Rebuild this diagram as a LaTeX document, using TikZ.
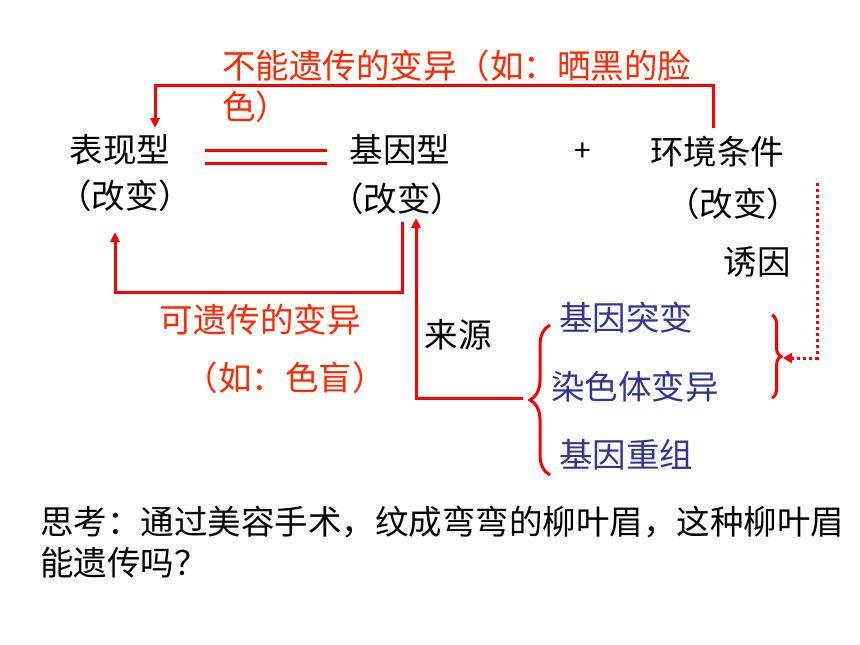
\documentclass[tikz,border=0pt]{standalone}
\usepackage{fontspec}
\setmainfont{Noto Sans CJK SC}
\usetikzlibrary{positioning,arrows.meta,decorations.pathreplacing}
\definecolor{txtred}{RGB}{255,40,0}
\definecolor{txtblue}{RGB}{51,51,153}

\begin{document}
\begin{tikzpicture}[x=1pt, y=-1pt,
    every node/.style={inner sep=0pt, font=\fontsize{33.5}{38}\selectfont},
    blk/.style={text=black},
    rtxt/.style={text=txtred},
    btxt/.style={text=txtblue},
    redline/.style={red, line width=3pt},
    redarrow/.style={redline, -{Triangle[width=9pt,length=10pt]}}]

    \useasboundingbox[fill=white] (0,0) rectangle (860,645);

    % Upper row
    \node[blk] (pheno) at (120,150) {表现型};
    \node[blk] (phenoc) at (125,196) {（改变）};
    \node[blk] (geno) at (400,150) {基因型};
    \node[blk] (genoc) at (397,199) {（改变）};
    \node[blk, font=\fontsize{30}{34}\selectfont] (plus) at (583,152) {+};
    \node[blk] (env) at (717,152) {环境条件};
    \node[blk] (envc) at (733,204) {（改变）};
    \node[blk] (cause) at (757,262) {诱因};

    % Red labels
    \node[rtxt, align=left, anchor=north west, font=\fontsize{33.5}{41}\selectfont] (nonher) at (222,50) {不能遗传的变异（如：晒黑的脸\\色）};
    \node[rtxt] (her) at (260,320) {可遗传的变异};
    \node[rtxt] (herex) at (285,378) {（如：色盲）};

    % Sources
    \node[blk] (src) at (458,335) {来源};
    \node[btxt] (mut) at (626,318) {基因突变};
    \node[btxt] (chrom) at (635,387) {染色体变异};
    \node[btxt] (recomb) at (626,455) {基因重组};

    % Question
    \node[blk, align=left, anchor=north west, font=\fontsize{33.5}{41}\selectfont] (think) at (40,506) {思考：通过美容手术，纹成弯弯的柳叶眉，这种柳叶眉\\能遗传吗？};

    % Points for the connectors
    \coordinate (envtop) at (713,128);
    \coordinate (phenotop) at (155,128);
    \coordinate (genobot) at (402,222);
    \coordinate (phenobot) at (115,232);
    \coordinate (genobotb) at (416,218);
    \coordinate (bracel) at (523,398);
    \coordinate (envdot) at (817,183);
    \coordinate (bracer) at (783,358);

    % Equal sign
    \draw[redline] (205,150) -- (327,150);
    \draw[redline] (205,163) -- (327,163);

    % Edges
    \draw[redarrow] (envtop) |- (155,85) -- (phenotop);
    \draw[redarrow] (genobot) |- (115,292) -- (phenobot);
    \draw[redarrow] (bracel) -| (genobotb);
    \draw[red, line width=3pt, dash pattern=on 3pt off 3pt, -{Triangle[width=10pt,length=9pt]}] (envdot) |- (bracer);

    % Braces
    \draw[redline, decorate, decoration={brace, amplitude=20pt}] (550,475) -- (550,325);
    \draw[redline, decorate, decoration={brace, amplitude=9pt}] (772,315) -- (772,398);
\end{tikzpicture}
\end{document}
